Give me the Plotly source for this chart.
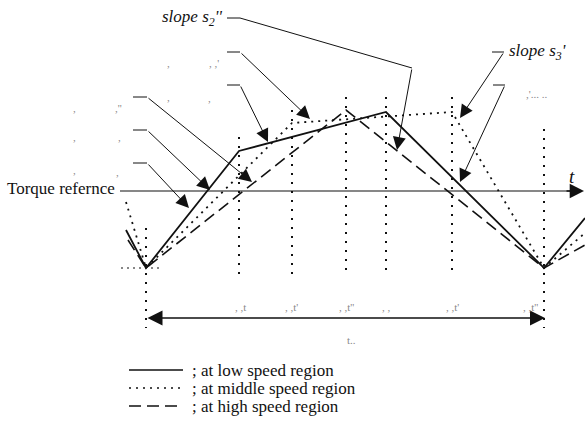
import plotly.graph_objects as go

# ---- waveform vertices (schematic units, y grows downward) ----
low_x = [126, 146, 239, 386, 544, 585]
low_y = [230, 268, 151, 112, 268, 218]
mid_x = [126, 146, 292, 452, 544, 585]
mid_y = [202, 268, 123, 112, 268, 233]
high_x = [128, 146, 346, 544, 585]
high_y = [240, 268, 110, 268, 245]

# vertical dotted guide lines
guide_x = [146, 239, 292, 346, 386, 452, 544]
guide_top = [228, 137, 110, 97, 97, 97, 129]
guide_bot = [328, 280, 280, 277, 277, 277, 328]

# torque reference axis
axis_y = 191
axis_x0, axis_x1 = 120, 585

# period arrow
period_y = 318
period_x = [146, 545]

# leader lines: (horizontal start, corner(s)..., arrow tip)
leaders = [
    ([227, 240, 412], [18, 18, 68], (397, 150)),
    ([227, 240], [52, 52], (310, 119)),
    ([227, 240], [85, 85], (268, 142)),
    ([133, 147], [97, 97], (252, 182)),
    ([133, 147], [130, 130], (210, 190)),
    ([133, 147], [163, 163], (189, 208)),
    ([492, 504], [52, 52], (460, 118)),
    ([493, 505], [85, 85], (460, 182)),
]

legend_labels = ["; at low speed region", "; at middle speed region", "; at high speed region"]
legend_styles = ["solid", "2px,5px", "12px,6px"]
legend_rows = [370, 388, 406]

# faint remnants of erased labels
faint_text = [",", ", ,'", ",", ",", ",", ",''", ",", ",", ",", ",",
              ", ,t", ", ,t'", ", ,t''", ", ,", ", ,t'", ", ,t''", "t..", ",'... .."]
faint_x = [168, 214, 168, 209, 74, 118, 74, 119, 74, 117,
           240, 291, 346, 386, 452, 530, 351, 536]
faint_y = [63, 63, 97, 98, 108, 108, 137, 137, 170, 172,
           307, 307, 307, 307, 307, 307, 340, 94]

INK = "#111111"
FONT = "Liberation Serif"

fig = go.Figure()

def line(xs, ys, dash="solid", width=1.6, color=INK):
    fig.add_trace(go.Scatter(x=xs, y=ys, mode="lines",
                             line=dict(color=color, width=width, dash=dash),
                             hoverinfo="skip", showlegend=False))

# guides
for gx, gt, gb in zip(guide_x, guide_top, guide_bot):
    line([gx, gx], [gt, gb], dash="2px,7px", width=2)
line([121, 160], [268, 268], dash="2px,4px", width=1.2)

# axis
line([axis_x0, axis_x1 - 10], [axis_y, axis_y], width=1.2)

# waveforms
line(low_x, low_y, "solid", 1.8)
line(mid_x, mid_y, "2px,5px", 1.8)
line(high_x, high_y, "12px,6px", 1.6)

annotations = []

def arrow(tail, tip, side="end", size=2.6, width=1.0):
    annotations.append(dict(x=tip[0], y=tip[1], ax=tail[0], ay=tail[1],
                            xref="x", yref="y", axref="x", ayref="y",
                            text="", showarrow=True, arrowhead=2, arrowside=side,
                            arrowsize=size, arrowwidth=width, arrowcolor=INK,
                            standoff=0, startstandoff=0))

arrow((axis_x1 - 20, axis_y), (axis_x1 - 1, axis_y), size=2.2, width=1.3)
arrow((period_x[0], period_y), (period_x[1], period_y), side="end+start", size=2.0, width=1.5)

for xs, ys, tip in leaders:
    line(xs, ys, width=1.0)
    arrow((xs[-1], ys[-1]), tip)

def text(s, x, y, size=17, anchor="left", color=INK, italic=False):
    if italic:
        s = "<i>" + s + "</i>"
    annotations.append(dict(x=x, y=y, xref="x", yref="y", text=s, showarrow=False,
                            xanchor=anchor, yanchor="middle",
                            font=dict(family=FONT, size=size, color=color)))

text("slope s<sub>2</sub>''", 224, 18, anchor="right", italic=True)
text("slope s<sub>3</sub>'", 507, 52, anchor="left", italic=True)
text("Torque refernce", 5, 188, anchor="left")
text("t", 572, 176, size=19, anchor="center", italic=True)

for lbl, st, ry in zip(legend_labels, legend_styles, legend_rows):
    line([129, 183], [ry, ry], dash=st, width=1.6)
    text(lbl, 190, ry, size=17, anchor="left")

for s, fx, fy in zip(faint_text, faint_x, faint_y):
    text(s, fx, fy, size=11, anchor="center", color="#8a8a8a")

fig.update_layout(
    width=585, height=423,
    margin=dict(l=0, r=0, t=0, b=0),
    paper_bgcolor="white", plot_bgcolor="white",
    xaxis=dict(range=[0, 585], visible=False, fixedrange=True),
    yaxis=dict(range=[423, 0], visible=False, fixedrange=True),
    annotations=annotations,
    showlegend=False,
)

fig.write_html("out.html")
